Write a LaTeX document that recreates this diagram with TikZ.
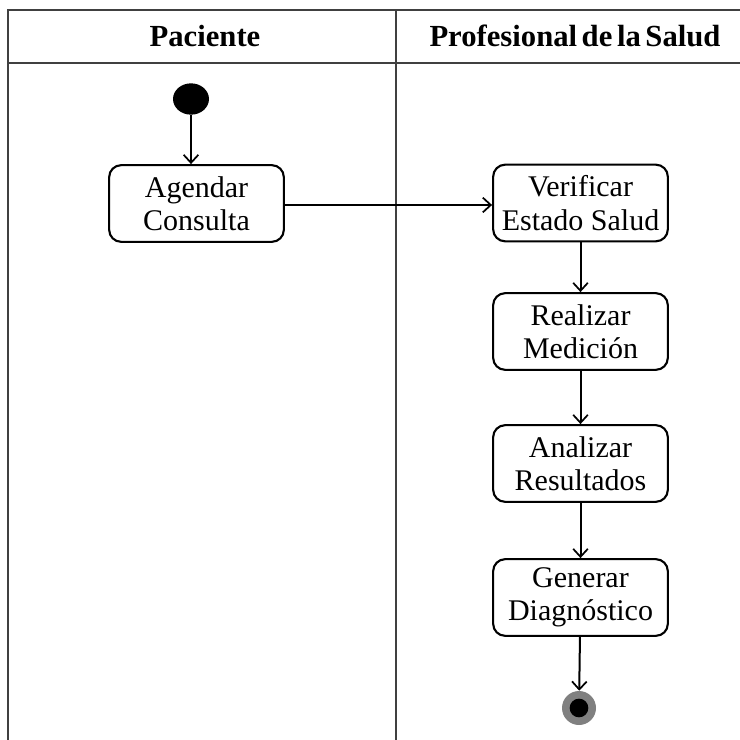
\documentclass[tikz,border=0pt]{standalone}
\usepackage{fontspec}
\setmainfont{Liberation Serif}
\newfontfamily\headfont[WordSpace=0.6]{Liberation Serif}
\usetikzlibrary{arrows.meta,shapes.geometric}

\tikzset{
  lane/.style={draw=black!75, line width=1.3pt},
  action/.style={draw, line width=1.6pt, rounded corners=9pt, fill=white,
    minimum width=131pt, minimum height=57.5pt, align=center, inner sep=2pt,
    font=\fontsize{22.5}{25}\selectfont},
  lanehead/.style={font=\headfont\fontsize{23}{26}\selectfont\bfseries},
  flow/.style={draw, line width=1.5pt, -{Straight Barb[length=6pt,width=11pt,line width=1.3pt]}},
  startnode/.style={ellipse, fill=black, minimum width=27pt, minimum height=23.5pt, inner sep=0pt},
  endring/.style={circle, fill=black!50, minimum size=25.5pt, inner sep=0pt},
  enddot/.style={circle, fill=black, minimum size=14pt, inner sep=0pt}
}

\begin{document}
\begin{tikzpicture}[x=0.75pt, y=-0.75pt]
  \useasboundingbox (0,0) rectangle (740,740);

  % swimlane frame
  \draw[lane] (8,740) -- (8,10) -- (740,10);
  \draw[lane] (8,63) -- (740,63);
  \draw[lane] (396,10) -- (396,740);

  \node[lanehead] (hpac) at (205,36) {Paciente};
  \node[lanehead] (hprof) at (575,36) {Profesional de la Salud};

  % activities
  \node[startnode] (ini) at (191,99) {};
  \node[action] (agendar)   at (196.5,203.5) {Agendar\\Consulta};
  \node[action] (verificar) at (580.5,203)   {Verificar\\Estado Salud};
  \node[action] (realizar)  at (580.5,331.5) {Realizar\\Medición};
  \node[action] (analizar)  at (580.5,463.5) {Analizar\\Resultados};
  \node[action] (generar)   at (580.5,597.5) {Generar\\Diagnóstico};
  \node[endring] (fin) at (579,708) {};
  \node[enddot] (findot) at (fin.center) {};

  % control flow
  \draw[flow] (ini) -- (ini |- agendar.north);
  \draw[flow] (agendar.east |- 0,205) -- (verificar.west |- 0,205);
  \draw[flow] (verificar) -- (realizar);
  \draw[flow] (realizar) -- (analizar);
  \draw[flow] (analizar) -- (generar);
  \draw[flow] (generar) -- (fin);
\end{tikzpicture}
\end{document}
